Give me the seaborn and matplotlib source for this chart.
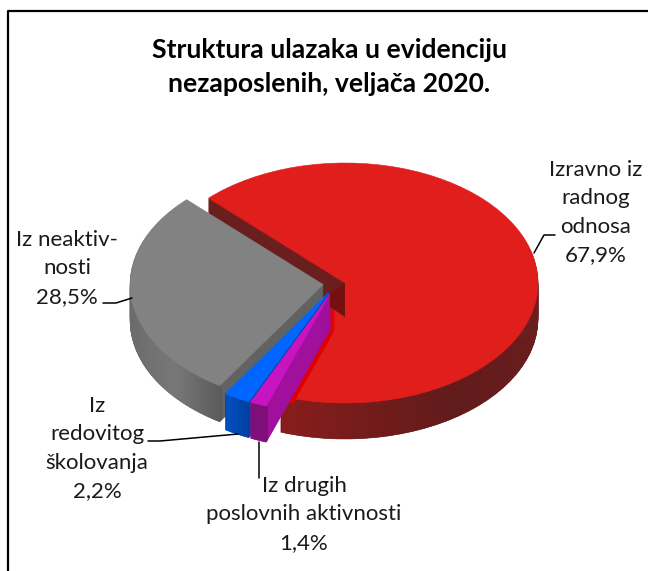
import numpy as np
import matplotlib
matplotlib.use("Agg")
import matplotlib.pyplot as plt
from matplotlib.lines import Line2D
from matplotlib.path import Path
import seaborn as sns

# Data
categories = ["Izravno iz\nradnog\nodnosa", "Iz drugih\nposlovnih aktivnosti", "Iz\nredovitog\nškolovanja", "Iz neaktiv-\nnosti"]
shares = [67.9, 1.4, 2.2, 28.5]
share_labels = ["67,9%", "1,4%", "2,2%", "28,5%"]
title_lines = "Struktura ulazaka u evidenciju\nnezaposlenih, veljača 2020."

# Style
explode = [0, 0.09, 0.09, 0.114]
nudge_px = [0, -8, -8, 0]  # blue and purple sit further left than plain explode gives
top_colors = ["#e01f1d", "#c814c0", "#0066ff", "#828282"]
wall_colors = ["#6a1e1e", "#a0109c", "#0047ab", "#626262"]
rim_ramps = [["#8a1c1c", "#741c1c", "#621b1b", "#6a1e1e"], ["#7f0f78", "#7f0f78"],
             ["#0050c0", "#003f9f"], ["#6c6c6c", "#787878", "#5a5a5a"]]
rim_px = [(282, 538, 340, 445), (250, 268, 395, 445), (226, 250, 390, 445), (130, 222, 290, 430)]
draw_rank = [0, 3, 2, 1]  # red, then grey, blue, purple on top
label_pos = [(596, 170), (304, 486), (97, 406), (67, 240)]

WIDTH, HEIGHT = 648, 571
CX, CY, RX, RY, DEPTH = 345, 283, 193, 120, 36
START = 135

sns.set_theme(style="white")
plt.rcParams["font.family"] = ["Lato", "DejaVu Sans"]

fig = plt.figure(figsize=(WIDTH / 100, HEIGHT / 100), dpi=100)
ax = fig.add_axes([0, 0, 1, 1])


def to_x(px):
    return (px - CX) / RX


def to_y(py):
    return (CY - py) / RY


layers = [[] for _ in shares]
for d in range(DEPTH, -1, -1):
    colors = top_colors if d == 0 else wall_colors
    wedges, _ = ax.pie(shares, explode=explode, startangle=START, counterclock=False, colors=colors,
                       center=(0, -d / RY), radius=1, frame=False,
                       wedgeprops={"linewidth": 0.4})
    for i, w in enumerate(wedges):
        w.set_edgecolor(colors[i])
        w.set_zorder((draw_rank[i] + 1) * 100 - d)
        w.set_center((w.center[0] + nudge_px[i] / RX, w.center[1]))
        if d > 0:
            layers[i].append(w)

    # bright red strip next to the purple wall
    strip, _ = ax.pie(shares, explode=explode, startangle=START, counterclock=False, colors=["#e00000"] * 4,
                      center=(0, -d / RY), radius=0.66, frame=False,
                      wedgeprops={"linewidth": 0})
    for i, w in enumerate(strip):
        if i != 1:
            w.remove()
        else:
            w.set_zorder(350)
            w.set_center((w.center[0] - 3 / RX, w.center[1]))

# shaded outer rim of each slice
ramp = np.linspace(0, 1, 256).reshape(1, -1)
for i, layer in enumerate(layers):
    cmap = sns.blend_palette(rim_ramps[i], as_cmap=True)
    x0, x1, y0, y1 = rim_px[i]
    im = ax.imshow(ramp, cmap=cmap, aspect="auto", zorder=(draw_rank[i] + 1) * 100 - 1,
                   extent=(to_x(x0), to_x(x1), to_y(y1), to_y(y0)))
    im.set_clip_path(Path.make_compound_path(*[w.get_path() for w in layer]), transform=ax.transData)

ax.set_aspect("auto")
ax.set_xlim(to_x(0), to_x(WIDTH))
ax.set_ylim(to_y(HEIGHT), to_y(0))
ax.axis("off")

# overlay in pixel coordinates for text and leader lines
over = fig.add_axes([0, 0, 1, 1], zorder=10)
over.set_xlim(0, WIDTH)
over.set_ylim(HEIGHT, 0)
over.axis("off")

# dark inner corner where the walls meet the red face
over.fill([345, 345, 330, 330], [283, 317, 307, 293], color="#741010", lw=0)

over.text(329, 67, title_lines, ha="center", va="center", fontsize=19.1, fontweight="bold",
          color="black", linespacing=1.55)

for name, val, (x, y) in zip(categories, share_labels, label_pos):
    over.text(x, y - 10, name + "\n" + val, ha="center", va="top", fontsize=16,
              color="#1a1a1a", linespacing=1.53)

leaders = [([534, 544, 555], [253, 235, 235]), ([259, 259], [442, 478]),
           ([148, 160, 238], [441, 441, 434]), ([103, 116, 132], [303, 303, 298])]
for xs, ys in leaders:
    over.plot(xs, ys, color="black", lw=1.1)

fig.add_artist(Line2D([8 / WIDTH, 8 / WIDTH, 1], [0, 1 - 11 / HEIGHT, 1 - 11 / HEIGHT], color="black", lw=1.6))

fig.savefig("out.png", dpi=100)
